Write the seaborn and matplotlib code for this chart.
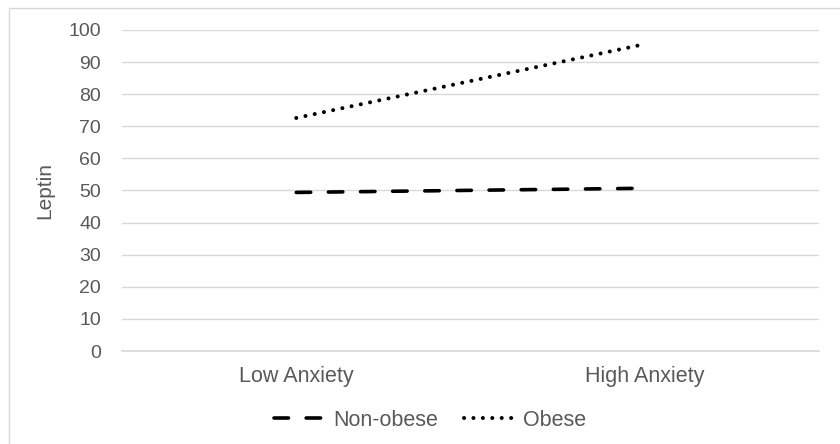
import matplotlib
matplotlib.use("Agg")
import matplotlib.pyplot as plt
import seaborn as sns
import pandas as pd
from matplotlib.patches import Rectangle

categories = ["Low Anxiety", "High Anxiety"]
non_obese = [49.4, 50.7]
obese = [72.6, 95.6]
series_names = ["Non-obese", "Obese"]
y_ticks = [0, 10, 20, 30, 40, 50, 60, 70, 80, 90, 100]

sns.set_theme(style="white")
plt.rcParams['font.family'] = ['Liberation Sans', 'DejaVu Sans']

W, H = 840, 444
fig = plt.figure(figsize=(W / 100, H / 100), dpi=100)
ax = fig.add_axes([122 / W, 1 - 351 / H, (819 - 122) / W, (351 - 30) / H])

# chart border (left/top visible)
fig.patches.append(Rectangle((9 / W, -0.1), 1.2, 1 - 8 / H + 0.1, transform=fig.transFigure,
                             fill=False, edgecolor="#d9d9d9", lw=1.0, zorder=0))

gray = "#595959"
xpos = list(range(len(categories)))
df_non = pd.DataFrame({"x": xpos, "y": non_obese})
df_ob = pd.DataFrame({"x": xpos, "y": obese})

sns.lineplot(data=df_non, x="x", y="y", ax=ax, color="black", lw=2.6,
             linestyle=(0, (4.0, 4.9)), dash_capstyle="round", label=series_names[0])
sns.lineplot(data=df_ob, x="x", y="y", ax=ax, color="black", lw=2.9,
             linestyle=(0, (0.01, 2.33)), dash_capstyle="round", solid_capstyle="round",
             label=series_names[1])

ax.set_xlim(-0.5, len(categories) - 0.5)
ax.set_ylim(0, 100)
ax.set_yticks(y_ticks)
ax.set_xticks(xpos)
ax.set_xticklabels(categories)
ax.yaxis.grid(True, color="#d9d9d9", lw=1.0)
ax.xaxis.grid(False)
for s in ax.spines.values():
    s.set_visible(False)
ax.spines["bottom"].set_visible(True)
ax.spines["bottom"].set_color("#d9d9d9")
ax.tick_params(axis="both", length=0, labelcolor=gray)
ax.tick_params(axis="y", pad=15, labelsize=14)
ax.tick_params(axis="x", pad=11, labelsize=15.5)
ax.set_xlabel("")
ax.set_ylabel("Leptin", fontsize=15, color=gray, labelpad=10)

handles, labels = ax.get_legend_handles_labels()
ax.get_legend().remove()
fig.legend(handles, labels, loc="center", bbox_to_anchor=(430 / W, 1 - 420 / H), ncol=2,
           frameon=False, fontsize=15.5, labelcolor=gray, handlelength=2.3,
           columnspacing=1.2, handletextpad=0.45)

fig.savefig("out.png", dpi=100)
